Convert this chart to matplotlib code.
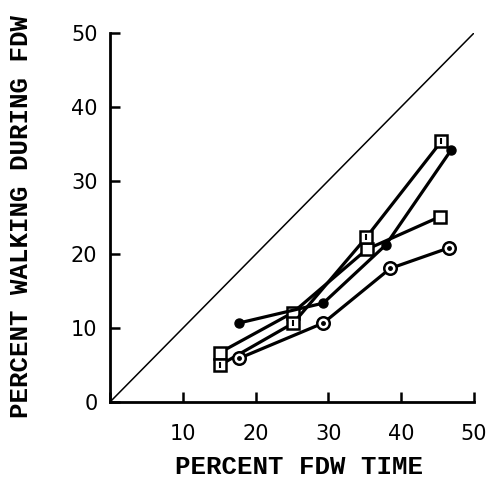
import matplotlib
matplotlib.use("Agg")
import matplotlib.pyplot as plt

# Percent FDW time (x) vs percent walking during FDW (y), four groups
dot_x = [17.7, 29.3, 37.9, 46.9]
dot_y = [10.7, 13.4, 21.3, 34.2]

ring_x = [17.7, 29.3, 38.5, 46.6]
ring_y = [5.9, 10.7, 18.1, 20.9]

boxdot_x = [15.1, 25.2, 35.2, 45.5]
boxdot_y = [5.0, 10.7, 22.3, 35.3]

box_x = [15.1, 25.1, 35.3, 45.3]
box_y = [6.7, 12.1, 20.7, 25.1]

x_ticks = [0, 10, 20, 30, 40, 50]
x_tick_labels = ["", "10", "20", "30", "40", "50"]
y_ticks = [0, 10, 20, 30, 40, 50]
y_tick_labels = ["0", "10", "20", "30", "40", "50"]

fig = plt.figure(figsize=(4.97, 4.83), dpi=100)
ax = fig.add_axes([110 / 497, 81 / 483, 364 / 497, 369 / 483])

# identity reference line
ax.plot([0, 50], [0, 50], color="black", lw=1.1, zorder=1)

lw = 2.3
ax.plot(box_x, box_y, color="black", lw=lw, marker="s", ms=8.5,
        mfc="white", mec="black", mew=1.8, zorder=3)
ax.plot(boxdot_x, boxdot_y, color="black", lw=lw, marker="s", ms=8.5,
        mfc="white", mec="black", mew=1.8, zorder=3)
ax.plot(boxdot_x, boxdot_y, ls="none", marker="|", ms=4, mec="black",
        mew=1.5, zorder=4)
ax.plot(dot_x, dot_y, color="black", lw=lw, marker="o", ms=6.5,
        mfc="black", mec="black", zorder=3)
ax.plot(ring_x, ring_y, color="black", lw=lw, marker="o", ms=9,
        mfc="white", mec="black", mew=1.8, zorder=3)
ax.plot(ring_x, ring_y, ls="none", marker="o", ms=2.5, mfc="black",
        mec="black", zorder=4)

ax.set_xlim(0, 50)
ax.set_ylim(0, 50)
ax.spines["top"].set_visible(False)
ax.spines["right"].set_visible(False)
for s in ("left", "bottom"):
    ax.spines[s].set_linewidth(2.0)
    ax.spines[s].set_capstyle("projecting")

ax.set_xticks(x_ticks)
ax.set_xticklabels(x_tick_labels)
ax.set_yticks(y_ticks)
ax.set_yticklabels(y_tick_labels)
ax.tick_params(axis="both", direction="in", length=7, width=1.8,
               labelsize=15, colors="black")
ax.tick_params(axis="x", pad=16)
ax.tick_params(axis="y", pad=9)

label_font = dict(family="Liberation Mono", weight="bold", size=18.5)
fig.text(299 / 497, 1 - 467 / 483, "PERCENT FDW TIME", ha="center",
         va="center", **label_font)
fig.text(21 / 497, 1 - 216 / 483, "PERCENT WALKING DURING FDW",
         rotation=90, ha="center", va="center", **label_font)

fig.savefig("out.png", dpi=100, facecolor="white")
